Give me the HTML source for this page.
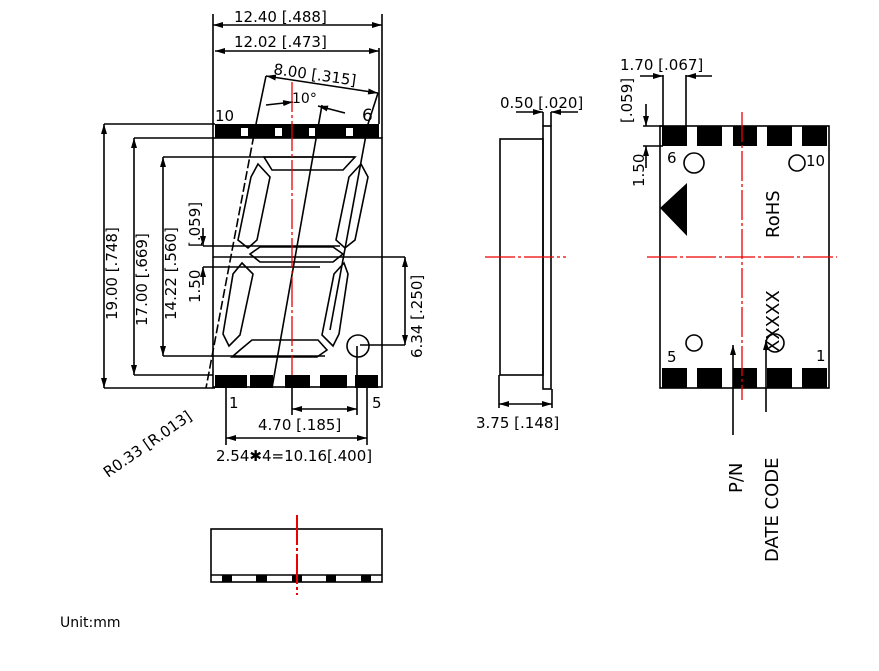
<!DOCTYPE html>
<html><head><meta charset="utf-8"><style>
html,body{margin:0;padding:0;background:#fff;width:879px;height:671px;overflow:hidden}
text{font-family:"DejaVu Sans","Liberation Sans",sans-serif;fill:#000}
</style></head><body>
<svg width="879" height="671" viewBox="0 0 879 671" xmlns="http://www.w3.org/2000/svg">
<defs>
<marker id="a" viewBox="0 0 10 6" refX="10" refY="3" markerWidth="10" markerHeight="6" orient="auto-start-reverse" markerUnits="userSpaceOnUse"><path d="M0,0L10,3L0,6z" fill="#000"/></marker>
</defs>
<g stroke="#000" stroke-width="1.6" fill="none">
<rect x="213" y="138" width="169" height="249"/>
<line x1="213" y1="14" x2="213" y2="138"/><line x1="382" y1="14" x2="382" y2="138"/>
<line x1="213" y1="25" x2="382" y2="25" marker-start="url(#a)" marker-end="url(#a)"/>
<line x1="215" y1="51" x2="379" y2="51" marker-start="url(#a)" marker-end="url(#a)"/>
<line x1="379" y1="48" x2="379" y2="124"/>
<line x1="266" y1="76" x2="378" y2="93" marker-start="url(#a)" marker-end="url(#a)"/>
<line x1="266" y1="76" x2="256" y2="124"/><line x1="378" y1="93" x2="368" y2="124"/>
<line x1="266" y1="105" x2="293" y2="102" marker-end="url(#a)"/>
<line x1="318" y1="106" x2="345" y2="113" marker-start="url(#a)"/>
<line x1="256" y1="124" x2="206" y2="388" stroke-dasharray="9,3"/>
<line x1="322" y1="105" x2="272" y2="388"/>
<line x1="368" y1="124" x2="330" y2="330"/>
<line x1="104" y1="124" x2="215" y2="124"/><line x1="104" y1="388" x2="215" y2="388"/>
<line x1="104" y1="124" x2="104" y2="388" marker-start="url(#a)" marker-end="url(#a)"/>
<line x1="134" y1="138" x2="213" y2="138"/><line x1="134" y1="375" x2="213" y2="375"/>
<line x1="134" y1="138" x2="134" y2="375" marker-start="url(#a)" marker-end="url(#a)"/>
<line x1="163" y1="157" x2="355" y2="157"/><line x1="163" y1="356" x2="325" y2="356"/>
<line x1="163" y1="157" x2="163" y2="356" marker-start="url(#a)" marker-end="url(#a)"/>
<line x1="203" y1="246" x2="340" y2="246"/><line x1="203" y1="267" x2="320" y2="267"/>
<line x1="203" y1="228" x2="203" y2="246" marker-end="url(#a)"/>
<line x1="203" y1="285" x2="203" y2="267" marker-end="url(#a)"/>
<line x1="213" y1="257" x2="405" y2="257"/>
<line x1="405" y1="257" x2="405" y2="345" marker-start="url(#a)" marker-end="url(#a)"/>
<line x1="360" y1="345" x2="405" y2="345"/>
<circle cx="358" cy="346" r="11"/>
<line x1="357" y1="346" x2="357" y2="415"/>
<line x1="292" y1="383" x2="292" y2="415"/>
<line x1="292" y1="409" x2="357" y2="409" marker-start="url(#a)" marker-end="url(#a)"/>
<line x1="226" y1="388" x2="226" y2="445"/><line x1="367" y1="388" x2="367" y2="445"/>
<line x1="226" y1="438" x2="367" y2="438" marker-start="url(#a)" marker-end="url(#a)"/>
<polygon points="264,157 355,157 343,170 272,170"/>
<polygon points="258,164 270,177 257,240 248,248 238,240 251,177"/>
<polygon points="361,164 349,177 336,240 345,248 355,240 368,177"/>
<polygon points="250,254 260,262 333,262 343,254 333,247 260,247"/>
<polygon points="242,263 253,274 240,335 229,346 223,334 233,274"/>
<polygon points="344,263 334,274 322,335 333,346 339,334 348,274"/>
<polygon points="240,350 252,340 318,340 327,350 317,357 232,357"/>
<rect x="500" y="139" width="43" height="236"/>
<rect x="543" y="126" width="8" height="263"/>
<line x1="543" y1="112" x2="543" y2="126"/><line x1="551" y1="112" x2="551" y2="126"/>
<line x1="516" y1="112" x2="543" y2="112" marker-end="url(#a)"/>
<line x1="578" y1="112" x2="551" y2="112" marker-end="url(#a)"/>
<line x1="499" y1="375" x2="499" y2="408"/><line x1="552" y1="389" x2="552" y2="408"/>
<line x1="499" y1="404" x2="552" y2="404" marker-start="url(#a)" marker-end="url(#a)"/>
<rect x="660" y="126" width="169" height="262"/>
<line x1="663" y1="75" x2="663" y2="126"/><line x1="686" y1="75" x2="686" y2="126"/>
<line x1="640" y1="76" x2="663" y2="76" marker-end="url(#a)"/>
<line x1="712" y1="76" x2="686" y2="76" marker-end="url(#a)"/>
<line x1="643" y1="126" x2="663" y2="126"/><line x1="643" y1="146" x2="663" y2="146"/>
<line x1="646" y1="104" x2="646" y2="126" marker-end="url(#a)"/>
<line x1="646" y1="168" x2="646" y2="146" marker-end="url(#a)"/>
<circle cx="694" cy="163" r="10"/><circle cx="797" cy="163" r="8"/>
<circle cx="694" cy="343" r="8"/><circle cx="775" cy="343" r="9"/>
<line x1="733" y1="345" x2="733" y2="435" marker-start="url(#a)"/>
<line x1="766" y1="340" x2="766" y2="412" marker-start="url(#a)"/>
<rect x="211" y="529" width="171" height="53"/>
<line x1="211" y1="575" x2="382" y2="575"/>
</g>
<g fill="#000">
<path d="M215,124H379V138H215z"/>
<rect x="241" y="128" width="7" height="8" fill="#fff"/><rect x="275" y="128" width="7" height="8" fill="#fff"/>
<rect x="309" y="128" width="6" height="8" fill="#fff"/><rect x="346" y="128" width="7" height="8" fill="#fff"/>
<rect x="215" y="375" width="32" height="13"/><rect x="250" y="375" width="23" height="13"/>
<rect x="285" y="375" width="25" height="13"/><rect x="320" y="375" width="27" height="13"/>
<rect x="355" y="375" width="23" height="13"/>
<rect x="662" y="126" width="25" height="20"/><rect x="697" y="126" width="25" height="20"/>
<rect x="733" y="126" width="24" height="20"/><rect x="767" y="126" width="25" height="20"/>
<rect x="802" y="126" width="25" height="20"/>
<rect x="662" y="368" width="25" height="20"/><rect x="697" y="368" width="25" height="20"/>
<rect x="733" y="368" width="24" height="20"/><rect x="767" y="368" width="25" height="20"/>
<rect x="802" y="368" width="25" height="20"/>
<polygon points="660,208 687,183 687,236"/>
<rect x="222" y="575" width="10" height="7"/><rect x="256" y="575" width="11" height="7"/>
<rect x="292" y="575" width="10" height="7"/><rect x="326" y="575" width="10" height="7"/>
<rect x="361" y="575" width="10" height="7"/>
</g>
<g stroke="#e00" stroke-width="1.3" stroke-dasharray="30,3,3,3">
<line x1="292" y1="82" x2="292" y2="375"/>
<line x1="485" y1="257" x2="566" y2="257"/>
<line x1="742" y1="112" x2="742" y2="400"/>
<line x1="647" y1="257" x2="837" y2="257"/>
<line x1="297" y1="515" x2="297" y2="595" stroke-width="2"/>
</g>
<g font-size="15">
<text x="234" y="22">12.40 [.488]</text>
<text x="234" y="47">12.02 [.473]</text>
<text x="273" y="74" transform="rotate(8 273 74)">8.00 [.315]</text>
<text x="292" y="103" font-size="14">10°</text>
<text x="215" y="121">10</text>
<text x="362" y="121" font-size="17">6</text>
<text x="229" y="408">1</text><text x="372" y="408">5</text>
<text x="258" y="430">4.70 [.185]</text>
<text x="216" y="461">2.54✱4=10.16[.400]</text>
<text x="108" y="478" transform="rotate(-35 108 478)">R0.33 [R.013]</text>
<text transform="translate(117 320) rotate(-90)">19.00 [.748]</text>
<text transform="translate(147 326) rotate(-90)">17.00 [.669]</text>
<text transform="translate(176 320) rotate(-90)">14.22 [.560]</text>
<text transform="translate(200 247) rotate(-90)">[.059]</text>
<text transform="translate(200 303) rotate(-90)">1.50</text>
<text transform="translate(422 358) rotate(-90)">6.34 [.250]</text>
<text x="500" y="108">0.50 [.020]</text>
<text x="476" y="428">3.75 [.148]</text>
<text x="620" y="70">1.70 [.067]</text>
<text transform="translate(632 123) rotate(-90)">[.059]</text>
<text transform="translate(644 187) rotate(-90)">1.50</text>
<text x="667" y="163">6</text><text x="806" y="166">10</text>
<text x="667" y="362">5</text><text x="816" y="361">1</text>
<text font-size="18" transform="translate(779 238) rotate(-90)">RoHS</text>
<text font-size="18" transform="translate(779 352) rotate(-90)">XXXXX</text>
<text font-size="18" transform="translate(742 493) rotate(-90)">P/N</text>
<text font-size="18" transform="translate(778 562) rotate(-90)">DATE CODE</text>
<text x="60" y="627" font-family="Liberation Sans" font-size="14">Unit:mm</text>
</g>
</svg>
</body></html>
